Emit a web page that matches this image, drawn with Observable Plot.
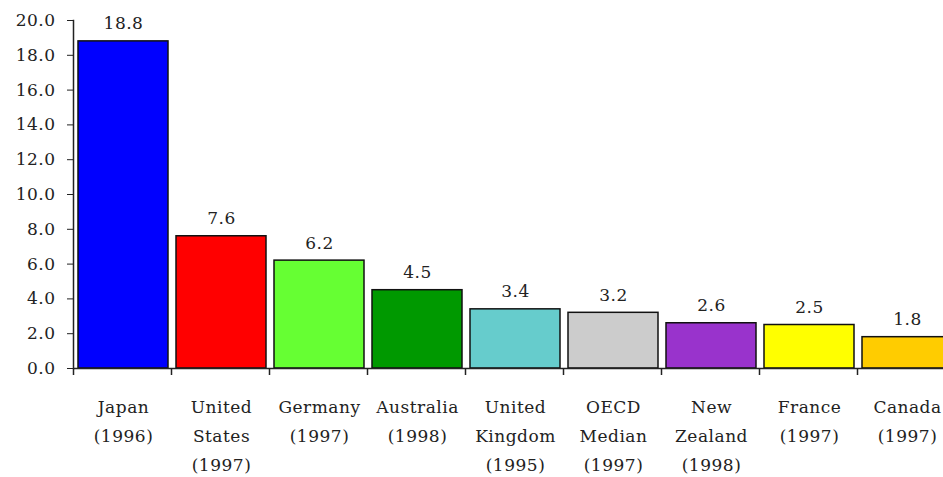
<!DOCTYPE html>
<html><head><meta charset="utf-8">
<script src="https://cdn.jsdelivr.net/npm/d3@7"></script>
<script src="https://cdn.jsdelivr.net/npm/@observablehq/plot@0.6"></script>
<style>
html,body{margin:0;padding:0;background:#fff;overflow:hidden;}
</style>
</head><body>
<div id="chart"></div>
<script>
const categories = ["Japan\n(1996)","United\nStates\n(1997)","Germany\n(1997)","Australia\n(1998)","United\nKingdom\n(1995)","OECD\nMedian\n(1997)","New\nZealand\n(1998)","France\n(1997)","Canada\n(1997)"];
const values = [18.8, 7.6, 6.2, 4.5, 3.4, 3.2, 2.6, 2.5, 1.8];
const colors = ["#0000FF","#FF0000","#66FF33","#009900","#66CCCC","#CCCCCC","#9933CC","#FFFF00","#FFCC00"];
const yTicks = [0,2,4,6,8,10,12,14,16,18,20];

const data = categories.map((c,i)=>({cat:c, value:values[i], color:colors[i]}));
const FF = "DejaVu Serif";

const chart = Plot.plot({
  width: 943,
  height: 477,
  marginLeft: 73,
  marginRight: 0,
  marginTop: 20,
  marginBottom: 109,
  style: {fontFamily: FF, fontSize: "17px", letterSpacing: "0.5px", color: "#222", background: "#fff"},
  x: {domain: categories, range: [73, 955], padding: 0, label: null},
  y: {domain: [0, 20], ticks: yTicks, label: null},
  marks: [
    Plot.barY(data, {x: "cat", y: "value", fill: "color", stroke: "#111", strokeWidth: 1.5, insetLeft: 5, insetRight: 3}),
    Plot.text(data, {x: "cat", y: "value", text: d => d.value.toFixed(1), lineAnchor: "bottom", dy: -12, dx: 1, fill: "#222", fontSize: 17, fontFamily: FF}),
    Plot.axisY({ticks: yTicks, tickFormat: d => d.toFixed(1), tickSize: 6, tickPadding: 12, fontSize: 17, fontFamily: FF, stroke: "#222"}),
    Plot.frame({anchor: "left", stroke: "#222", strokeWidth: 1.5}),
    Plot.ruleY([0], {stroke: "#222", strokeWidth: 1.5}),
    Plot.ruleX(categories, {x: d => d, dx: -49, y1: 0, y2: 0, insetBottom: -7, stroke: "#222", strokeWidth: 1.5}),
    Plot.axisX({tickSize: 0, tickPadding: 24, lineHeight: 1.7, fontSize: 17, fontFamily: FF, dx: 1})
  ]
});
document.getElementById("chart").appendChild(chart);
</script>
</body></html>
